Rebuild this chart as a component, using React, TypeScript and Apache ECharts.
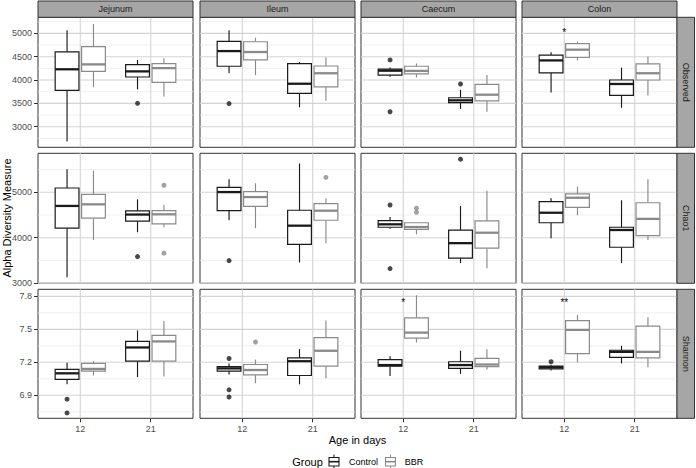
import React, { useEffect, useRef } from 'react';
import * as echarts from 'echarts';

// ---------- categories ----------
const regions = ['Jejunum', 'Ileum', 'Caecum', 'Colon'];
const measures = ['Observed', 'Chao1', 'Shannon'];
const ages = ['12', '21'];
const groups = ['Control', 'BBR'];

// ---------- box statistics: [low, q1, median, q3, high] ----------
// order: Jejunum 12, Jejunum 21, Ileum 12, Ileum 21, Caecum 12, Caecum 21, Colon 12, Colon 21
const observedControl = [
  [2680, 3780, 4230, 4605, 5065], [3800, 4065, 4185, 4330, 4430],
  [4145, 4295, 4620, 4830, 5065], [3415, 3715, 3920, 4350, 4385],
  [4070, 4105, 4200, 4235, 4270], [3380, 3515, 3565, 3620, 3790],
  [3735, 4155, 4420, 4535, 4595], [3405, 3670, 3915, 4000, 4265],
];
const observedBBR = [
  [3845, 4185, 4335, 4715, 5200], [3645, 3950, 4255, 4350, 4465],
  [4105, 4430, 4600, 4820, 4905], [3555, 3855, 4145, 4300, 4485],
  [4055, 4130, 4195, 4295, 4355], [3320, 3555, 3685, 3905, 4105],
  [4420, 4485, 4650, 4780, 4820], [3670, 4000, 4145, 4345, 4505],
];
const chao1Control = [
  [3130, 4210, 4700, 5095, 5510], [4120, 4365, 4510, 4590, 4845],
  [4385, 4595, 5005, 5110, 5285], [3455, 3855, 4265, 4605, 5635],
  [4200, 4230, 4295, 4375, 4455], [3440, 3550, 3880, 4165, 4700],
  [3990, 4330, 4550, 4795, 4870], [3440, 3790, 4170, 4230, 4825],
];
const chao1BBR = [
  [3950, 4430, 4735, 4955, 5475], [4230, 4305, 4515, 4595, 4725],
  [4210, 4690, 4895, 5015, 5200], [3880, 4385, 4595, 4750, 4870],
  [4075, 4185, 4235, 4330, 4335], [3330, 3770, 4110, 4370, 5035],
  [4495, 4670, 4880, 4965, 5125], [3950, 4045, 4415, 4770, 5285],
];
const shannonControl = [
  [7.0, 7.045, 7.1, 7.135, 7.195], [7.065, 7.21, 7.335, 7.39, 7.49],
  [7.09, 7.12, 7.145, 7.16, 7.19], [7.0, 7.08, 7.21, 7.24, 7.32],
  [7.075, 7.165, 7.175, 7.225, 7.255], [7.095, 7.145, 7.175, 7.205, 7.305],
  [7.125, 7.14, 7.155, 7.165, 7.175], [7.19, 7.245, 7.295, 7.31, 7.35],
];
const shannonBBR = [
  [7.08, 7.12, 7.14, 7.19, 7.21], [7.07, 7.21, 7.39, 7.445, 7.575],
  [7.01, 7.085, 7.13, 7.18, 7.225], [7.055, 7.165, 7.305, 7.425, 7.58],
  [7.38, 7.42, 7.47, 7.605, 7.81], [7.135, 7.16, 7.18, 7.235, 7.32],
  [7.2, 7.28, 7.495, 7.58, 7.63], [7.155, 7.24, 7.295, 7.53, 7.61],
];

// ---------- outliers: [regionIndex, ageIndex, value] ----------
const observedOutliersControl = [[0, 1, 3500], [1, 0, 3495], [2, 0, 4430], [2, 0, 3320], [2, 1, 3915]];
const observedOutliersBBR: number[][] = [];
const chao1OutliersControl = [[0, 1, 3585], [1, 0, 3495], [2, 0, 4720], [2, 0, 3320], [2, 1, 5730]];
const chao1OutliersBBR = [[0, 1, 5155], [0, 1, 3660], [1, 1, 5330], [2, 0, 4650], [2, 0, 4560]];
const shannonOutliersControl = [[0, 0, 6.865], [0, 0, 6.74], [1, 0, 7.235], [1, 0, 6.95], [1, 0, 6.885], [3, 0, 7.205]];
const shannonOutliersBBR = [[1, 0, 7.385]];

// ---------- significance marks: [measureIndex, regionIndex, ageIndex, value] ----------
const annotationPos = [[0, 3, 0, 5020], [2, 2, 0, 7.745], [2, 3, 0, 7.745]];
const annotationText = ['*', '*', '**'];

// ---------- axes ----------
const yMin = [2558, 2996, 6.691];
const yMax = [5344, 5859, 7.864];
const yMajor = [[3000, 3500, 4000, 4500, 5000], [3000, 4000, 5000], [6.9, 7.2, 7.5, 7.8]];
const yMinor = [[2750, 3250, 3750, 4250, 4750, 5250], [3500, 4500, 5500], [6.75, 7.05, 7.35, 7.65]];
const xTicks = [1, 2];

const stats = [
  [observedControl, observedBBR],
  [chao1Control, chao1BBR],
  [shannonControl, shannonBBR],
];
const outliers = [
  [observedOutliersControl, observedOutliersBBR],
  [chao1OutliersControl, chao1OutliersBBR],
  [shannonOutliersControl, shannonOutliersBBR],
];

// ---------- layout / style ----------
const FONT = "'Liberation Sans', Arial, Helvetica, sans-serif";
const colLeft = [38, 200, 361, 522];
const panelW = 155;
const rowTop = [17.3, 153.3, 289.3];
const rowH = [130, 130, 129];
const STROKES = ['#1a1a1a', '#8a8a8a'];
const TICK_TEXT = '#4d4d4d';
const BOX_OFFSET = 0.1875;
const BOX_HALF = 0.16875;

function boxRender(color: string) {
  return (params: any, api: any) => {
    const x = api.value(0);
    const lo = api.coord([x, api.value(1)]);
    const q1 = api.coord([x, api.value(2)]);
    const md = api.coord([x, api.value(3)]);
    const q3 = api.coord([x, api.value(4)]);
    const hi = api.coord([x, api.value(5)]);
    const hw = api.size([BOX_HALF, 0])[0];
    const cx = md[0];
    return {
      type: 'group',
      children: [
        { type: 'line', shape: { x1: cx, y1: hi[1], x2: cx, y2: q3[1] }, style: { stroke: color, lineWidth: 1.15 } },
        { type: 'line', shape: { x1: cx, y1: q1[1], x2: cx, y2: lo[1] }, style: { stroke: color, lineWidth: 1.15 } },
        { type: 'rect', shape: { x: cx - hw, y: q3[1], width: 2 * hw, height: q1[1] - q3[1] }, style: { fill: '#ffffff', stroke: color, lineWidth: 1.2 } },
        { type: 'line', shape: { x1: cx - hw, y1: md[1], x2: cx + hw, y2: md[1] }, style: { stroke: color, lineWidth: 2.3 } },
      ],
    };
  };
}

function gridRender(params: any, api: any) {
  const cs = params.coordSys;
  const v = api.value(0);
  const kind = api.value(1);
  if (kind === 2) {
    const px = api.coord([v, 0])[0];
    return { type: 'line', shape: { x1: px, y1: cs.y, x2: px, y2: cs.y + cs.height }, style: { stroke: '#d4d4d4', lineWidth: 1.1 } };
  }
  const py = api.coord([1, v])[1];
  return {
    type: 'line',
    shape: { x1: cs.x, y1: py, x2: cs.x + cs.width, y2: py },
    style: { stroke: kind === 0 ? '#d4d4d4' : '#e8e8e8', lineWidth: kind === 0 ? 1.1 : 0.7 },
  };
}

function buildOption() {
  const grid: any[] = [];
  const xAxis: any[] = [];
  const yAxis: any[] = [];
  const series: any[] = [];

  for (let r = 0; r < 3; r++) {
    for (let c = 0; c < 4; c++) {
      const gi = r * 4 + c;
      grid.push({
        left: colLeft[c], top: rowTop[r], width: panelW, height: rowH[r],
        show: true, backgroundColor: '#ffffff', borderColor: '#333333', borderWidth: 1,
      });
      xAxis.push({
        gridIndex: gi, type: 'value', min: 0.4, max: 2.6,
        splitLine: { show: false }, axisLine: { show: false },
        axisTick: { show: r === 2, customValues: xTicks, length: 4, lineStyle: { color: '#333333' } },
        axisLabel: {
          show: r === 2, customValues: xTicks, margin: 6, fontSize: 9, color: TICK_TEXT, fontFamily: FONT,
          formatter: (v: number) => ages[Math.round(v) - 1] || '',
        },
      });
      yAxis.push({
        gridIndex: gi, type: 'value', min: yMin[r], max: yMax[r],
        splitLine: { show: false }, axisLine: { show: false },
        axisTick: { show: c === 0, customValues: yMajor[r], length: 4, lineStyle: { color: '#333333' } },
        axisLabel: {
          show: c === 0, customValues: yMajor[r], margin: 6, fontSize: 9, color: TICK_TEXT, fontFamily: FONT,
          formatter: (v: number) => (r === 2 ? v.toFixed(1) : String(Math.round(v))),
        },
      });

      // gridlines
      const gl: number[][] = [];
      yMajor[r].forEach((v) => gl.push([v, 0]));
      yMinor[r].forEach((v) => gl.push([v, 1]));
      xTicks.forEach((v) => gl.push([v, 2]));
      series.push({
        type: 'custom', xAxisIndex: gi, yAxisIndex: gi, z: 1, silent: true,
        renderItem: gridRender, data: gl,
      });

      // boxes
      for (let g = 0; g < 2; g++) {
        const data = [0, 1].map((a) => [a + 1 + (g === 0 ? -BOX_OFFSET : BOX_OFFSET), ...stats[r][g][c * 2 + a]]);
        series.push({
          name: groups[g], type: 'custom', xAxisIndex: gi, yAxisIndex: gi, z: 2,
          dimensions: ['x', 'low', 'q1', 'median', 'q3', 'high'],
          encode: { x: 0, y: [1, 2, 3, 4, 5] },
          renderItem: boxRender(STROKES[g]), data,
        });
        const od = outliers[r][g]
          .filter((o) => o[0] === c)
          .map((o) => [o[1] + 1 + (g === 0 ? -BOX_OFFSET : BOX_OFFSET), o[2]]);
        if (od.length) {
          series.push({
            name: groups[g] + ' outliers', type: 'scatter', xAxisIndex: gi, yAxisIndex: gi, z: 3,
            symbol: 'circle', symbolSize: 5, itemStyle: { color: STROKES[g] }, data: od,
          });
        }
      }

      // significance marks
      const ann = annotationPos
        .map((p, i) => [p, i] as [number[], number])
        .filter(([p]) => p[0] === r && p[1] === c)
        .map(([p, i]) => [p[2] + 1, p[3], i]);
      if (ann.length) {
        series.push({
          type: 'custom', xAxisIndex: gi, yAxisIndex: gi, z: 4, silent: true,
          renderItem: (params: any, api: any) => {
            const pt = api.coord([api.value(0), api.value(1)]);
            return {
              type: 'text', x: pt[0], y: pt[1],
              style: {
                text: annotationText[api.value(2)], fill: '#000000', fontSize: 10, fontFamily: FONT,
                textAlign: 'center', textVerticalAlign: 'middle', align: 'center', verticalAlign: 'middle',
              },
            };
          },
          data: ann,
        });
      }
    }
  }

  // ---------- decorations ----------
  const elements: any[] = [];
  const textStyle = (text: string, size: number, fill = '#1a1a1a') => ({
    text, fontSize: size, fontFamily: FONT, fill,
    textAlign: 'center', textVerticalAlign: 'middle', align: 'center', verticalAlign: 'middle',
  });
  regions.forEach((name, c) => {
    elements.push({ type: 'rect', shape: { x: colLeft[c], y: 1, width: panelW, height: 16.3 }, style: { fill: '#a6a6a6', stroke: '#333333', lineWidth: 1 }, z: 10 });
    elements.push({ type: 'text', x: colLeft[c] + panelW / 2, y: 9.3, style: textStyle(name, 9), z: 11 });
  });
  measures.forEach((name, r) => {
    elements.push({ type: 'rect', shape: { x: 677, y: rowTop[r], width: 17.5, height: rowH[r] }, style: { fill: '#a6a6a6', stroke: '#333333', lineWidth: 1 }, z: 10 });
    elements.push({ type: 'text', x: 686, y: rowTop[r] + rowH[r] / 2, rotation: -Math.PI / 2, style: textStyle(name, 9), z: 11 });
  });
  elements.push({ type: 'text', x: 7, y: 218, rotation: Math.PI / 2, style: textStyle('Alpha Diversity Measure', 11, '#000000') });
  elements.push({ type: 'text', x: 357.5, y: 439.5, style: textStyle('Age in days', 11, '#000000') });
  elements.push({ type: 'text', x: 307.5, y: 462, style: textStyle('Group', 11, '#000000') });
  const keyX = [334, 390.5];
  const labelX = [363.5, 414];
  groups.forEach((name, g) => {
    const cx = keyX[g];
    const col = STROKES[g];
    elements.push({
      type: 'group', children: [
        { type: 'line', shape: { x1: cx, y1: 454.5, x2: cx, y2: 457.5 }, style: { stroke: col, lineWidth: 1 } },
        { type: 'line', shape: { x1: cx, y1: 466, x2: cx, y2: 469 }, style: { stroke: col, lineWidth: 1 } },
        { type: 'rect', shape: { x: cx - 5, y: 457.5, width: 10, height: 8.5 }, style: { fill: '#ffffff', stroke: col, lineWidth: 1.1 } },
        { type: 'line', shape: { x1: cx - 5, y1: 461.7, x2: cx + 5, y2: 461.7 }, style: { stroke: col, lineWidth: 1.6 } },
      ],
    });
    elements.push({ type: 'text', x: labelX[g], y: 462, style: textStyle(name, 9, '#000000') });
  });

  return {
    animation: false,
    textStyle: { fontFamily: FONT },
    grid, xAxis, yAxis, series,
    graphic: { elements },
  };
}

export default function App() {
  const ref = useRef<HTMLDivElement>(null);
  useEffect(() => {
    document.body.style.margin = '0';
    if (!ref.current) return;
    const chart = echarts.init(ref.current, null, { renderer: 'svg' });
    chart.setOption(buildOption() as any);
    return () => chart.dispose();
  }, []);
  return <div ref={ref} style={{ width: 696, height: 468, position: 'absolute', left: 0, top: 0, background: '#ffffff' }} />;
}
